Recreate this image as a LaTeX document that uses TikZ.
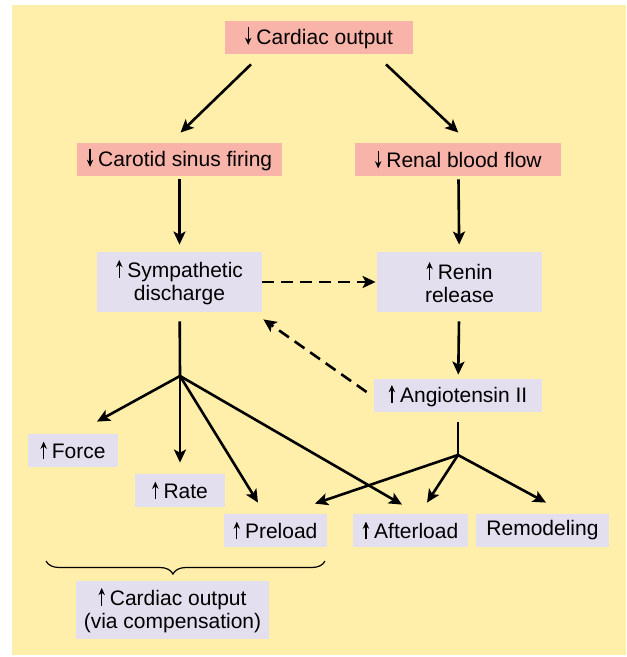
\documentclass[tikz,border=0pt]{standalone}
\usepackage{fontspec}
\setmainfont{Liberation Sans}
\usepackage{tikz}
\usetikzlibrary{arrows.meta, calc, decorations.pathreplacing}
\definecolor{HFYellow}{RGB}{255,239,170}
\definecolor{HFPink}{RGB}{248,180,168}
\definecolor{HFLav}{RGB}{227,223,238}
\newcommand{\incr}{\tikz[baseline=0pt]\draw[-{Stealth[length=3.6pt, width=3.2pt]},
  line width=0.65pt] (0pt,-0.3pt) -- (0pt,8.6pt);\hspace{2.5pt}}
\newcommand{\decr}{\tikz[baseline=0pt]\draw[-{Stealth[length=3.6pt, width=3.2pt]},
  line width=0.65pt] (0pt,8.6pt) -- (0pt,-0.3pt);\hspace{2.5pt}}

\begin{document}
\begin{tikzpicture}[x=0.5pt, y=-0.5pt,
      box/.style={rectangle, inner sep=0pt, minimum height=16.5pt,
                  align=center, font=\fontsize{10.5}{11.6}\selectfont},
      fall/.style={box, fill=HFPink},
      rise/.style={box, fill=HFLav},
      arr/.style={-{Stealth[length=6.5pt, width=6pt, inset=1.5pt]}, line width=1.3pt},
      link/.style={line width=1.3pt},
      dasharr/.style={arr, dash pattern=on 6pt off 3.5pt}
    ]

    \useasboundingbox (0,0) rectangle (626,657);
    \fill[HFYellow] (12,5) rectangle (626,655);

    %--- top: falling output ---
    \node[fall, minimum width=94pt] (co) at (319,37.5) {\decr Cardiac output};
    \node[fall, minimum width=102.5pt] (car) at (179.5,159.5) {\decr Carotid sinus firing};
    \node[fall, minimum width=103pt] (ren) at (458.3,159.5) {\decr Renal blood flow};

    \draw[arr] ($(co.south)+(-68,10)$) -- ($(car.north)+(1,-10)$);
    \draw[arr] ($(co.south)+(67,10)$) -- ($(ren.north)+(0,-10)$);

    %--- middle: reflex responses ---
    \node[rise, minimum width=82.5pt, minimum height=30pt]
          (sym) at (179.5,282) {\incr Sympathetic\\discharge};
    \node[rise, minimum width=82.5pt, minimum height=30pt]
          (rnn) at (459.5,282) {\incr Renin\\release};
    \node[rise, minimum width=84pt] (ang) at (458,395.5) {\incr Angiotensin II};

    \draw[arr, shorten <=1.5pt, shorten >=3.5pt] (car) -- (sym);
    \draw[arr, shorten <=1.5pt, shorten >=3.5pt] (ren) -- (rnn);
    \draw[dasharr, shorten >=0.5pt] (sym) -- (rnn);
    \draw[arr, shorten <=4.5pt, shorten >=2pt] (rnn) -- (ang);
    \draw[dasharr] ($(ang.west)+(-7,-3.5)$) -- ($(sym.south east)+(1,7)$);

    %--- bottom: effects ---
    \node[rise, minimum width=45pt] (frc) at (73,450.5) {\incr Force};
    \node[rise, minimum width=45pt] (rte) at (180,490.5) {\incr Rate};
    \node[rise, minimum width=51.5pt] (pre) at (275.5,530.5) {\incr Preload};
    \node[rise, minimum width=57.5pt] (aft) at (410.5,530.5) {\incr Afterload};
    \node[rise, minimum width=66.5pt] (rem) at (542.5,530.5) {Remodeling};
    \node[rise, minimum width=96.5pt, minimum height=29pt]
          (cop) at (172.5,610) {\incr Cardiac output\\(via compensation)};

    \coordinate (sb) at (180,376);
    \coordinate (ab) at (458,455);

    \draw[link, shorten <=4.5pt] (sym) -- (sb);
    \draw[arr] (sb) -- ($(frc.north)+(24,-12)$);
    \draw[arr, shorten >=5.5pt] (sb) -- (rte);
    \draw[arr] (sb) -- ($(pre.north)+(-17.5,-11)$);
    \draw[arr] (sb) -- ($(aft.north)+(-8.5,-9)$);

    \draw[link, shorten <=5pt] (ang) -- (ab);
    \draw[arr] (ab) -- ($(pre.north)+(39.5,-10)$);
    \draw[arr] (ab) -- ($(aft.north)+(16.5,-11)$);
    \draw[arr] (ab) -- ($(rem.north)+(3.5,-11)$);

    %--- brace over the compensating effects ---
    \coordinate (bl) at (46,561);
    \coordinate (br) at (325,561);
    \draw[line width=0.6pt, decorate,
          decoration={brace, mirror, amplitude=6.5pt, aspect=0.455}] (bl) -- (br);
  \end{tikzpicture}
\end{document}
